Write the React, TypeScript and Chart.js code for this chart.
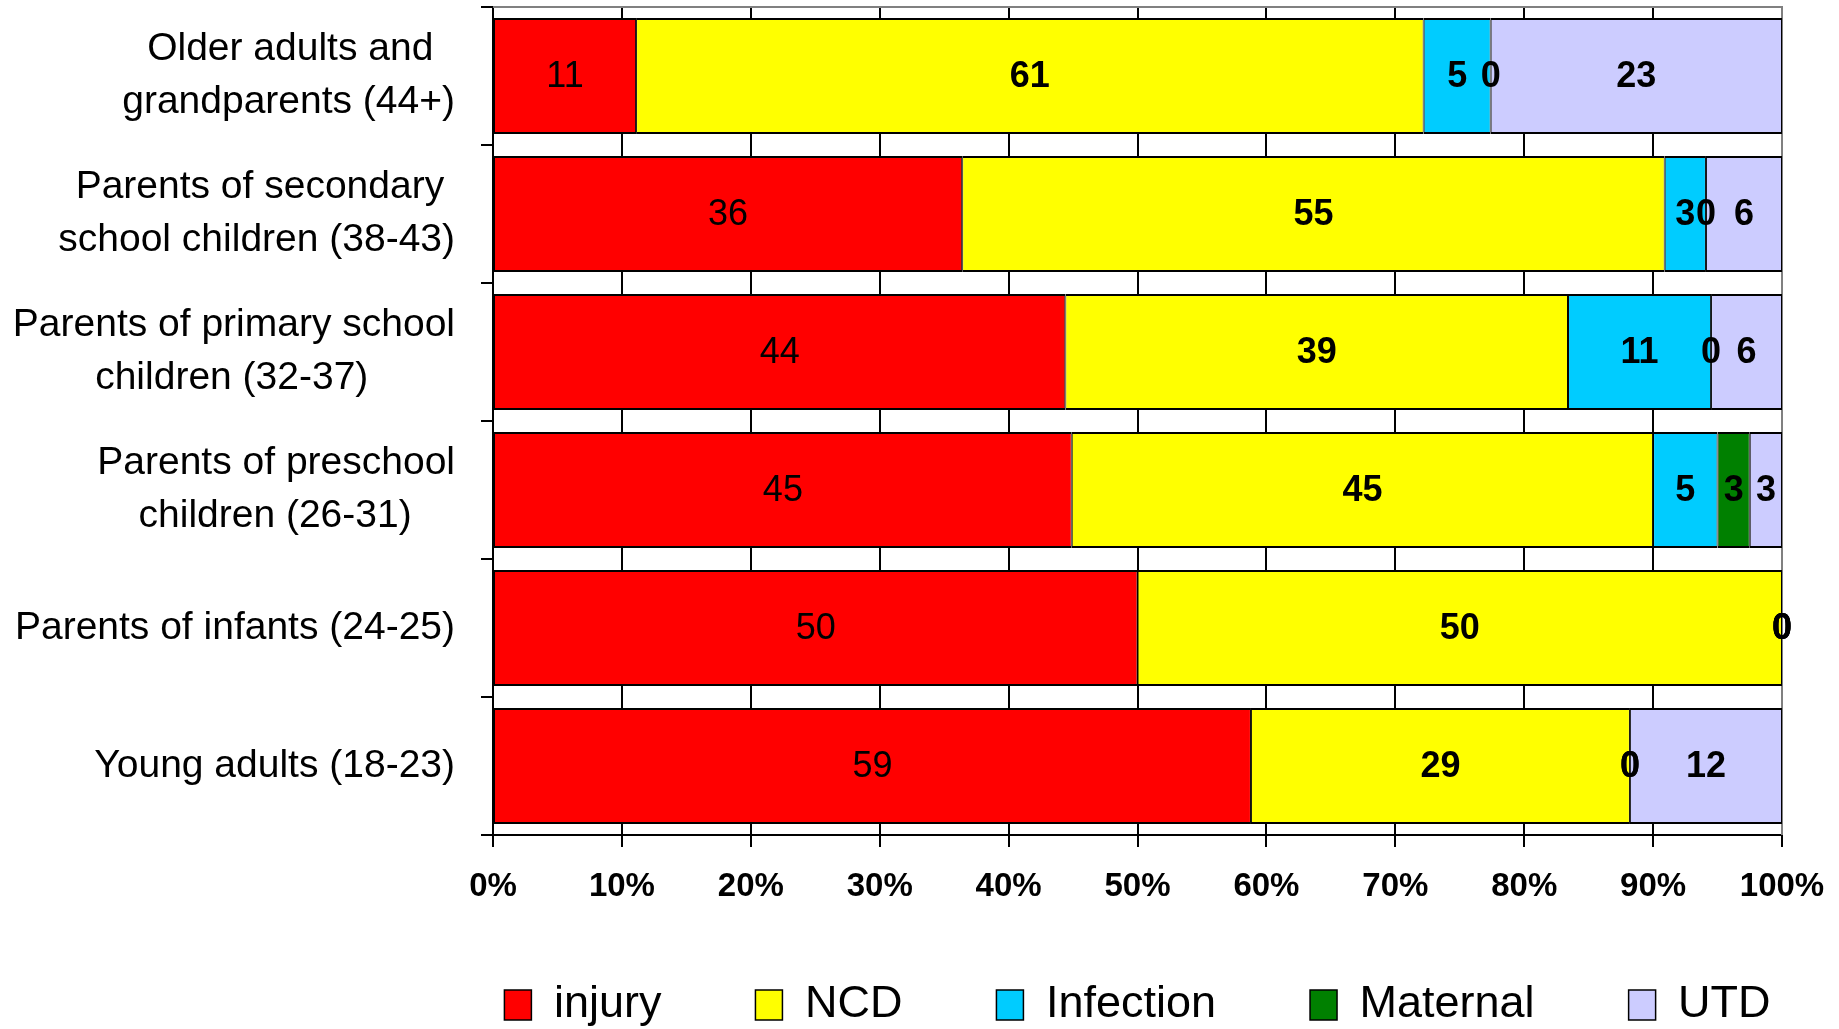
import React, { useEffect, useRef } from 'react';
import { Chart, registerables } from 'chart.js';

Chart.register(...registerables);

// Category labels (multi-line; trailing spaces centre the shorter line under the longer one)
const categories: (string | string[])[] = [
  ['Older adults and  ', 'grandparents (44+)'],
  ['Parents of secondary ', 'school children (38-43)'],
  ['Parents of primary school', 'children (32-37)        '],
  ['Parents of preschool', 'children (26-31)    '],
  'Parents of infants (24-25)',
  'Young adults (18-23)',
];

const seriesNames = ['injury', 'NCD', 'Infection', 'Maternal', 'UTD'];
const seriesColors = ['#FF0000', '#FFFF00', '#00CCFF', '#008000', '#CCCCFF'];

// Percent shares (labels show rounded values)
const injury = [11.1, 36.4, 44.4, 44.9, 50, 58.8];
const ncd = [61.1, 54.5, 39.0, 45.1, 50, 29.4];
const infection = [5.2, 3.2, 11.1, 5.0, 0, 0];
const maternal = [0, 0, 0, 2.5, 0, 0];
const utd = [22.6, 5.9, 5.5, 2.5, 0, 11.8];

const xTickLabels = ['0%', '10%', '20%', '30%', '40%', '50%', '60%', '70%', '80%', '90%', '100%'];

const FONT = "'Liberation Sans', Arial, Helvetica, sans-serif";

const dataLabelPlugin = {
  id: 'dataLabels',
  afterDatasetsDraw(chart: any) {
    const ctx = chart.ctx;
    ctx.save();
    ctx.textAlign = 'center';
    ctx.textBaseline = 'middle';
    ctx.fillStyle = '#000';
    chart.data.datasets.forEach((ds: any, di: number) => {
      const meta = chart.getDatasetMeta(di);
      ctx.font = (di === 0 ? 'normal ' : 'bold ') + '36px ' + FONT;
      meta.data.forEach((el: any, i: number) => {
        const p = el.getProps(['x', 'y', 'base'], true);
        const v = ds.data[i];
        ctx.fillText(String(Math.round(v)), (p.x + p.base) / 2, p.y + 1);
      });
    });
    ctx.restore();
  },
};

const framePlugin = {
  id: 'plotFrame',
  beforeDatasetsDraw(chart: any) {
    const { ctx, chartArea } = chart;
    ctx.save();
    ctx.strokeStyle = '#808080';
    ctx.lineWidth = 2;
    ctx.beginPath();
    ctx.moveTo(chartArea.left, chartArea.top);
    ctx.lineTo(chartArea.right, chartArea.top);
    ctx.lineTo(chartArea.right, chartArea.bottom);
    ctx.stroke();
    ctx.restore();
  },
};

const LEGEND_TEXT_CENTER = 1005;

const legendShiftPlugin = {
  id: 'legendShift',
  afterLayout(chart: any) {
    const lg = chart.legend;
    if (!lg) return;
    const ca = chart.chartArea;
    const off = (ca.left + ca.right) / 2 - (lg.left + lg.right) / 2;
    lg.left += off;
    lg.right += off;
    const pad = lg.options.labels.padding;
    const fs = lg.options.labels.font.size;
    const h = lg.bottom - lg.top;
    lg.top = LEGEND_TEXT_CENTER - fs / 2 - pad;
    lg.bottom = lg.top + h;
  },
};

export default function App() {
  const ref = useRef<HTMLCanvasElement | null>(null);

  useEffect(() => {
    document.body.style.margin = '0';
    const canvas = ref.current;
    if (!canvas) return;
    const seriesValues = [injury, ncd, infection, maternal, utd];
    const chart = new Chart(canvas, {
      type: 'bar',
      data: {
        labels: categories,
        datasets: seriesNames.map((name, k) => ({
          label: name,
          data: seriesValues[k],
          backgroundColor: seriesColors[k],
          borderColor: '#000',
          borderWidth: { top: 2, bottom: 2, left: 1, right: 1 },
          borderSkipped: false,
          categoryPercentage: 1,
          barPercentage: 0.84,
        })),
      },
      options: {
        responsive: false,
        animation: false,
        indexAxis: 'y',
        devicePixelRatio: 1,
        layout: { padding: { top: 7, right: 57, left: 0, bottom: -30 } },
        plugins: {
          tooltip: { enabled: false },
          title: { display: false },
          legend: {
            position: 'bottom',
            labels: {
              font: { family: FONT, size: 45 },
              color: '#000',
              boxWidth: 27,
              boxHeight: 30,
              padding: 94,
            },
          },
        },
        scales: {
          x: {
            type: 'linear',
            stacked: true,
            min: 0,
            max: 100,
            ticks: {
              stepSize: 10,
              autoSkip: false,
              maxRotation: 0,
              padding: 20,
              color: '#000',
              font: { family: FONT, size: 33, weight: 'bold' },
              callback: (_v: any, i: number) => xTickLabels[i],
            },
            grid: {
              color: (c: any) => (c.tick && c.tick.value === 100 ? '#808080' : '#000'),
              lineWidth: 2,
              tickLength: 12,
              tickColor: '#000',
            },
            border: { color: '#000', width: 2 },
            afterFit: (s: any) => {
              s.height = 75;
              s.paddingLeft = 0;
              s.paddingRight = 0;
            },
          },
          y: {
            type: 'category',
            stacked: true,
            ticks: {
              padding: 26,
              color: '#000',
              autoSkip: false,
              font: { family: FONT, size: 39, lineHeight: 1.36 },
            },
            grid: {
              offset: true,
              drawOnChartArea: false,
              tickLength: 12,
              color: '#000',
              lineWidth: 2,
            },
            border: { color: '#000', width: 2 },
            afterFit: (s: any) => {
              s.width = 493;
              s.paddingTop = 0;
              s.paddingBottom = 0;
            },
          },
        },
      },
      plugins: [framePlugin, dataLabelPlugin, legendShiftPlugin],
    } as any);
    return () => chart.destroy();
  }, []);

  return (
    <div style={{ width: 1839, height: 1029 }}>
      <canvas ref={ref} width={1839} height={1029} style={{ display: 'block' }} />
    </div>
  );
}
